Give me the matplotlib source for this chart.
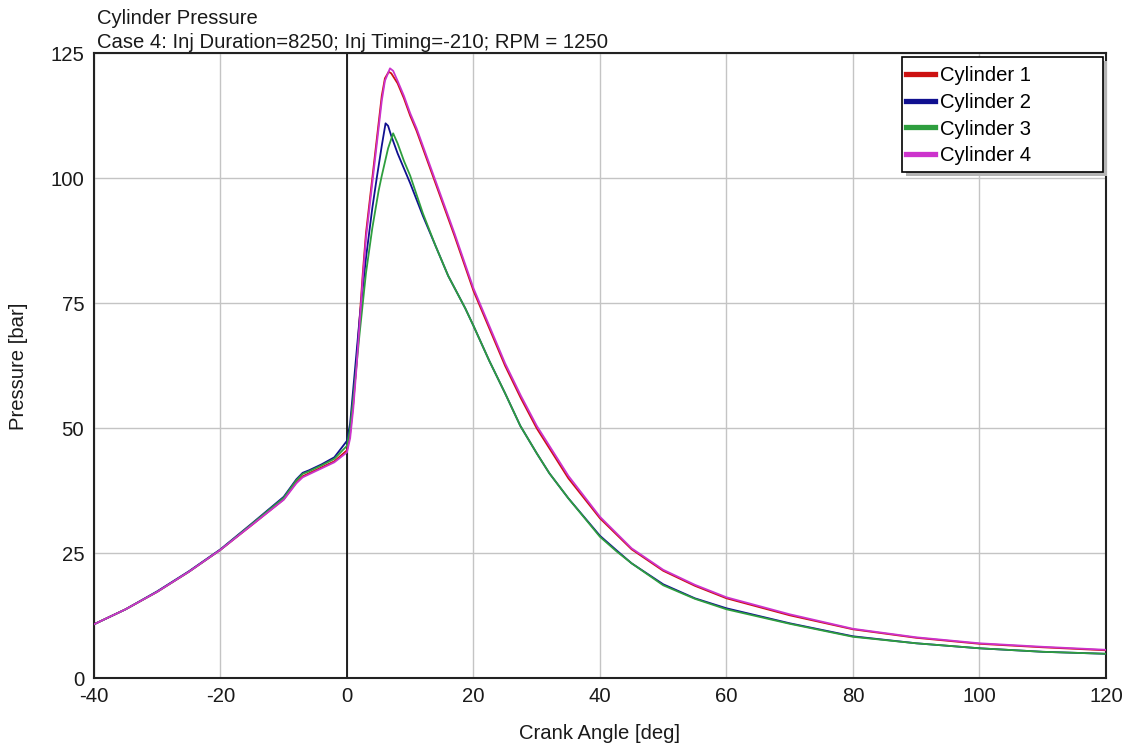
import matplotlib
matplotlib.use("Agg")
import matplotlib.pyplot as plt
from matplotlib.patches import Rectangle

plt.rcParams['font.family'] = ['Liberation Sans', 'DejaVu Sans']
plt.rcParams['axes.unicode_minus'] = False

title = "Cylinder Pressure"
subtitle = "Case 4: Inj Duration=8250; Inj Timing=-210; RPM = 1250"
x_label = "Crank Angle [deg]"
y_label = "Pressure [bar]"
x_ticks = [-40, -20, 0, 20, 40, 60, 80, 100, 120]
y_ticks = [0, 25, 50, 75, 100, 125]
labels = ["Cylinder 1", "Cylinder 2", "Cylinder 3", "Cylinder 4"]
colors = ["#cc1111", "#101090", "#2e9e3e", "#cc33cc"]

ang_pre = [-40, -35, -30, -25, -20, -15, -10, -8, -7, -6, -4, -2, 0]
p_pre_1 = [10.8, 13.8, 17.3, 21.3, 25.7, 30.7, 35.8, 39.2, 40.4, 41.0, 42.2, 43.4, 45.6]
p_pre_2 = [10.8, 13.8, 17.4, 21.4, 25.8, 31.0, 36.3, 39.8, 41.1, 41.6, 42.8, 44.2, 47.5]
p_pre_3 = [10.8, 13.8, 17.3, 21.3, 25.7, 30.9, 36.1, 39.6, 40.9, 41.4, 42.6, 43.9, 46.5]
p_pre_4 = [10.8, 13.8, 17.3, 21.3, 25.7, 30.7, 35.7, 39.0, 40.2, 40.8, 42.0, 43.2, 45.2]

ang_1 = [0.5, 1, 1.5, 2, 2.5, 3, 4, 5, 5.5, 6, 6.6, 7, 8, 9, 10, 11, 12, 13, 15, 17,
         20, 22.5, 25, 27.5, 30, 32, 35, 40, 45, 50, 55, 60, 70, 80, 90, 100, 110, 120]
p_1 = [49, 55, 63, 72, 81, 89, 100, 111, 116.5, 120, 121.3, 121, 119, 116, 112.5, 109.5,
       106, 102.5, 95.5, 88.5, 77.5, 70, 62.5, 56, 50, 46, 40, 32, 25.8, 21.5, 18.5, 16,
       12.6, 9.8, 8.1, 6.9, 6.2, 5.6]
ang_4 = [0.5, 1, 1.5, 2, 2.5, 3, 4, 5, 5.5, 6, 6.8, 7.3, 8, 9, 10, 11, 12, 13, 15, 17,
         20, 22.5, 25, 27.5, 30, 32, 35, 40, 45, 50, 55, 60, 70, 80, 90, 100, 110, 120]
p_4 = [48, 54, 62, 71, 80, 88, 99, 110, 115.5, 119.5, 122, 121.5, 119.5, 116.5, 113, 110,
       106.5, 103, 96, 89, 78, 70.5, 63, 56.5, 50.5, 46.5, 40.5, 32.3, 26, 21.7, 18.7,
       16.2, 12.8, 9.9, 8.2, 7.0, 6.3, 5.7]
ang_2 = [0.5, 1, 1.5, 2, 3, 4, 4.7, 5.5, 6.1, 6.5, 7, 8, 9, 10, 12, 14, 16, 18.7, 20,
         22.5, 25, 27.4, 30, 32, 35, 40, 42.7, 45, 50, 55, 60, 70, 80, 90, 100, 110, 120]
p_2 = [51, 58, 65, 72, 84, 94, 100, 106.5, 111, 110.5, 108.5, 105, 102, 99, 92.5, 86.5,
       80.5, 74, 70.5, 63.5, 57, 50.5, 45, 41, 36, 28.5, 25.5, 23, 18.8, 16, 14, 11, 8.4,
       7.0, 6.0, 5.3, 4.9]
ang_3 = [0.5, 1, 2, 3, 4, 5, 5.5, 6.5, 7.3, 8, 9, 10, 12, 14, 16, 18.7, 20,
         22.5, 25, 27.4, 30, 32, 35, 40, 42.7, 45, 50, 55, 60, 70, 80, 90, 100, 110, 120]
p_3 = [50, 56, 69, 81, 90, 97.5, 100.5, 106, 109, 107, 103.5, 100.5, 93, 86.5,
       80.5, 74, 70.5, 63.5, 57, 50.5, 45, 41, 36, 28.3, 25.3, 23, 18.6, 15.9, 13.8, 10.9,
       8.3, 7.0, 6.0, 5.3, 4.9]

series = [
    (ang_pre + ang_1, p_pre_1 + p_1),
    (ang_pre + ang_2, p_pre_2 + p_2),
    (ang_pre + ang_3, p_pre_3 + p_3),
    (ang_pre + ang_4, p_pre_4 + p_4),
]

fig = plt.figure(figsize=(11.28, 7.49), dpi=100)
ax = fig.add_axes([0.0833, 0.0944, 0.8972, 0.8344])

fs = 14.6
txt_col = "#1a1a1a"
handles = []
for (x, y), c, lab in zip(series, colors, labels):
    h, = ax.plot(x, y, color=c, lw=1.3, label=lab, zorder=3)
    handles.append(h)

ax.axvline(0, color="black", lw=1.2, zorder=2)
ax.set_xlim(-40, 120)
ax.set_ylim(0, 125)
ax.set_xticks(x_ticks)
ax.set_yticks(y_ticks)
ax.grid(True, color="#c4c4c4", lw=1.0)
ax.set_axisbelow(True)
ax.tick_params(length=0, labelsize=fs, colors=txt_col)
ax.tick_params(axis="x", pad=6)
ax.tick_params(axis="y", pad=7)
for s in ax.spines.values():
    s.set_linewidth(1.5)
    s.set_color("#222222")

ax.set_xlabel(x_label, fontsize=fs, labelpad=13, color=txt_col)
ax.set_ylabel(y_label, fontsize=fs, labelpad=16, color=txt_col)
fig.text(97 / 1128, 1 - 18 / 749, title, fontsize=fs, ha="left", va="center", color=txt_col)
fig.text(97 / 1128, 1 - 42 / 749, subtitle, fontsize=fs, ha="left", va="center", color=txt_col)

# legend box (frame + shadow) drawn in axes coordinates
bx0, bx1, by0, by1 = 0.798, 0.997, 0.810, 0.994
dx, dy = 4 / 1012, 4 / 625
ax.add_patch(Rectangle((bx0 + dx, by0 - dy), bx1 - bx0, by1 - by0, transform=ax.transAxes,
                       facecolor="#b4b4b4", edgecolor="none", zorder=5, clip_on=False))
ax.add_patch(Rectangle((bx0, by0), bx1 - bx0, by1 - by0, transform=ax.transAxes,
                       facecolor="white", edgecolor="black", lw=1.2, zorder=6, clip_on=False))

leg = ax.legend(handles=handles, loc="upper left", bbox_to_anchor=(0.802, 0.9795),
                fontsize=fs, frameon=False, borderaxespad=0.0, borderpad=0.0,
                handlelength=1.45, handletextpad=0.25, labelspacing=0.38)
leg.set_zorder(7)
for lh in leg.get_lines():
    lh.set_linewidth(3.8)

fig.savefig("out.png", dpi=100)
